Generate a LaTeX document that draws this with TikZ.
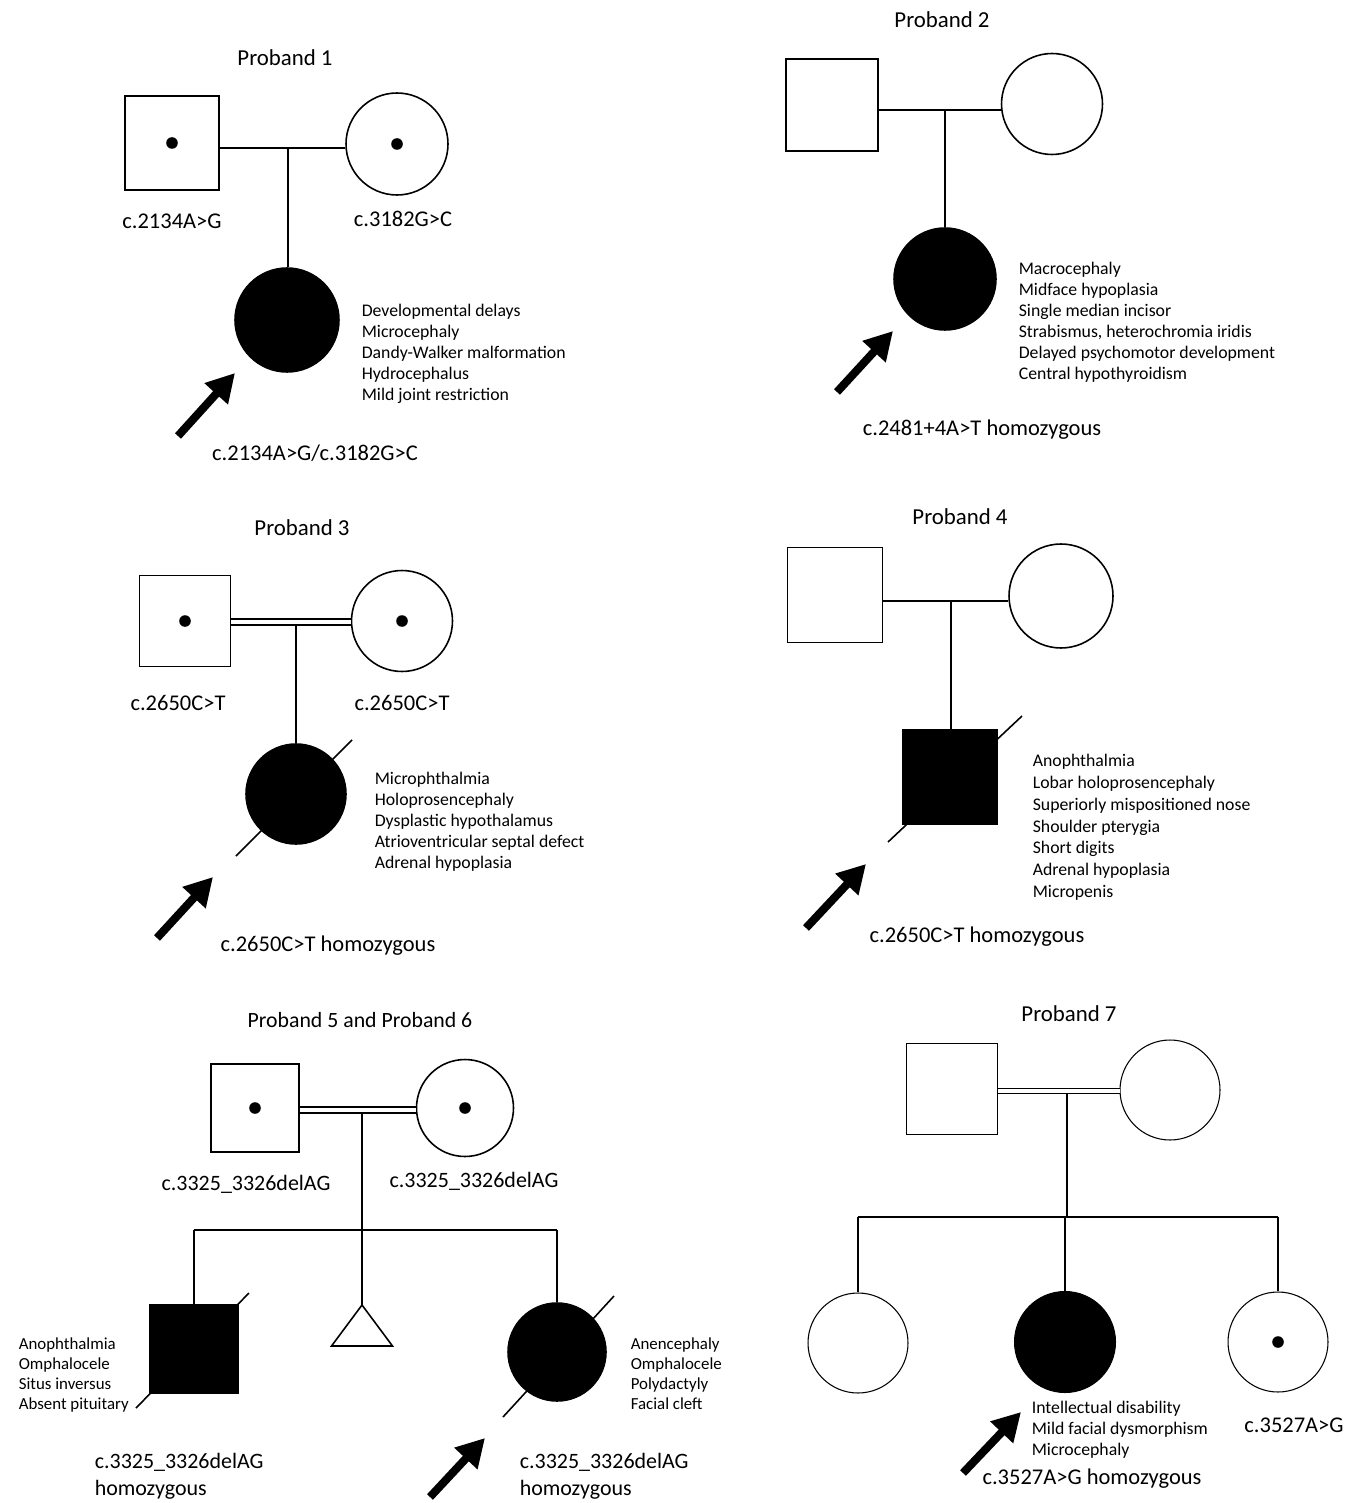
\documentclass[tikz,border=0pt]{standalone}
\usepackage{fontspec}
\setmainfont{Carlito}
\usetikzlibrary{arrows.meta}
\tikzset{
  male/.style={draw, rectangle, inner sep=0pt, minimum size=1.84cm},
  female/.style={draw, circle, inner sep=0pt, minimum size=2.02cm},
  affected/.style={fill=black},
  carrier/.style={path picture={\fill (path picture bounding box.center) circle (3.3pt);}},
  consang/.style={double, double distance=2.6pt},
  probarrow/.style={line width=4.6pt, -{Triangle[length=16pt,width=17pt]}},
  heading/.style={inner sep=0pt, font=\fontsize{13}{15}\selectfont},
  geno/.style={inner sep=0pt, font=\fontsize{12.8}{15.4}\selectfont},
  pheno/.style={anchor=north west, align=left, inner sep=0pt, font=\fontsize{10.1}{11.95}\selectfont}
}

\begin{document}
\begin{tikzpicture}[x=0.02cm, y=-0.02cm, line width=0.9pt]
  \useasboundingbox (0,0) rectangle (1364,1503);

  % Proband 1
  \node[heading] (h1) at (285,58) {Proband 1};
  \node[male, carrier, minimum size=1.88cm] (f1) at (172,143) {};
  \node[female, carrier, minimum size=2.04cm] (m1) at (397,144) {};
  \node[female, affected, minimum size=2.08cm] (p1) at (287,320) {};
  \coordinate (u1) at (288,148);
  \draw (f1.east |- u1) -- (m1.west |- u1);
  \draw (u1) -- (u1 |- p1.north);
  \node[geno] (g1f) at (172,221) {c.2134A>G};
  \node[geno] (g1m) at (403,219) {c.3182G>C};
  \node[geno] (g1p) at (315,453) {c.2134A>G/c.3182G>C};
  \node[pheno] (t1) at (361,303) {Developmental delays\\Microcephaly\\Dandy-Walker malformation\\Hydrocephalus\\Mild joint restriction};
  \coordinate (a1) at (178,436);
  \draw[probarrow] (a1) -- ++(57,-63);

  % Proband 2
  \node[heading] (h2) at (942,20) {Proband 2};
  \node[male, minimum size=1.84cm] (f2) at (832,105) {};
  \node[female] (m2) at (1052,104) {};
  \node[female, affected, minimum size=2.04cm] (p2) at (945,279) {};
  \coordinate (u2) at (945,110);
  \draw (f2.east |- u2) -- (m2.west |- u2);
  \draw (u2) -- (p2.north);
  \node[geno] (g2p) at (982,430) {c.2481+4A>T homozygous};
  \node[pheno] (t2) at (1018,261) {Macrocephaly\\Midface hypoplasia\\Single median incisor\\Strabismus, heterochromia iridis\\Delayed psychomotor development\\Central hypothyroidism};
  \coordinate (a2) at (837,392);
  \draw[probarrow] (a2) -- ++(56,-61);

  % Proband 3
  \node[heading] (h3) at (302,528) {Proband 3};
  \node[male, carrier, minimum size=1.82cm] (f3) at (185,621) {};
  \node[female, carrier] (m3) at (402,621) {};
  \node[female, affected, minimum size=2cm] (p3) at (296,794) {};
  \coordinate (u3) at (296,622);
  \draw[consang] (f3.east |- u3) -- (m3.west |- u3);
  \draw (296,625) -- (p3.north);
  \draw (236,856) -- (352,740);
  \node[geno] (g3f) at (178,703) {c.2650C>T};
  \node[geno] (g3m) at (402,703) {c.2650C>T};
  \node[geno] (g3p) at (328,946) {c.2650C>T homozygous};
  \node[pheno] (t3) at (374,771) {Microphthalmia\\Holoprosencephaly\\Dysplastic hypothalamus\\Atrioventricular septal defect\\Adrenal hypoplasia};
  \coordinate (a3) at (157,938);
  \draw[probarrow] (a3) -- ++(56,-61);

  % Proband 4
  \node[heading] (h4) at (960,517) {Proband 4};
  \node[male, minimum size=1.9cm] (f4) at (835,595) {};
  \node[female, minimum size=2.08cm] (m4) at (1061,596) {};
  \node[male, affected, minimum size=1.9cm] (p4) at (950,777) {};
  \coordinate (u4) at (951,601);
  \draw (f4.east |- u4) -- (m4.west |- u4);
  \draw (u4) -- (u4 |- p4.north);
  \draw (888,842) -- (1022,716);
  \node[geno] (g4p) at (977,937) {c.2650C>T homozygous};
  \node[pheno, font=\fontsize{10.1}{12.5}\selectfont] (t4) at (1032,753) {Anophthalmia\\Lobar holoprosencephaly\\Superiorly mispositioned nose\\Shoulder pterygia\\Short digits\\Adrenal hypoplasia\\Micropenis};
  \coordinate (a4) at (806,928);
  \draw[probarrow] (a4) -- ++(60,-64);

  % Proband 5 and Proband 6
  \node[heading, font=\fontsize{12.4}{15}\selectfont] (h5) at (360,1020) {Proband 5 and Proband 6};
  \node[male, carrier, minimum size=1.76cm] (f5) at (255,1108) {};
  \node[female, carrier, minimum size=1.94cm] (m5) at (465,1108) {};
  \coordinate (u5) at (362,1110);
  \draw[consang] (f5.east |- u5) -- (m5.west |- u5);
  \coordinate (s5) at (362,1230);
  \node[male, affected, minimum size=1.76cm] (p5) at (194,1349) {};
  \node[female, affected, minimum size=1.96cm] (p6) at (557,1352) {};
  \coordinate (tw5) at (362,1305);
  \draw (362,1113) -- (s5);
  \draw (p5.north |- s5) -- (p6.north |- s5);
  \draw (p5.north |- s5) -- (p5.north);
  \draw (p6.north |- s5) -- (p6.north);
  \draw (s5) -- (tw5);
  \draw (tw5) -- ++(-30.5,41) -- ++(61,0) -- cycle;
  \draw (136,1408) -- (249,1293);
  \draw (503,1417) -- (614,1296);
  \node[geno, font=\fontsize{12.5}{15.4}\selectfont] (g5f) at (246,1184) {c.3325\_3326delAG};
  \node[geno, font=\fontsize{12.5}{15.4}\selectfont] (g5m) at (474,1181) {c.3325\_3326delAG};
  \node[geno, anchor=north west, align=left, font=\fontsize{12.5}{15.4}\selectfont] (g5p) at (94,1452) {c.3325\_3326delAG\\homozygous};
  \node[geno, anchor=north west, align=left, font=\fontsize{12.5}{15.4}\selectfont] (g6p) at (519,1452) {c.3325\_3326delAG\\homozygous};
  \node[pheno, font=\fontsize{9.6}{11.4}\selectfont] (t5) at (18,1337) {Anophthalmia\\Omphalocele\\Situs inversus\\Absent pituitary};
  \node[pheno, font=\fontsize{9.6}{11.4}\selectfont] (t6) at (630,1337) {Anencephaly\\Omphalocele\\Polydactyly\\Facial cleft};
  \coordinate (a6) at (430,1497);
  \draw[probarrow] (a6) -- ++(55,-59);

  % Proband 7
  \begin{scope}[line width=0.6pt]
  \node[heading] (h7) at (1069,1014) {Proband 7};
  \node[male, minimum size=1.82cm] (f7) at (952,1089) {};
  \node[female, minimum size=2cm] (m7) at (1170,1090) {};
  \coordinate (u7) at (1067,1091);
  \draw[consang] (f7.east |- u7) -- (m7.west |- u7);
  \coordinate (s7) at (1067,1217);
  \node[female, minimum size=2cm] (c7a) at (858,1343) {};
  \node[female, affected] (p7) at (1065,1342) {};
  \node[female, carrier, minimum size=2cm] (c7b) at (1278,1342) {};
  \draw (1067,1094) -- (s7);
  \draw (c7a.north |- s7) -- (c7b.north |- s7);
  \draw (c7a.north |- s7) -- (c7a.north);
  \draw (p7.north |- s7) -- (p7.north);
  \draw (c7b.north |- s7) -- (c7b.north);
  \end{scope}
  \node[geno] (g7b) at (1294,1425) {c.3527A>G};
  \node[geno] (g7p) at (1092,1479) {c.3527A>G homozygous};
  \node[pheno] (t7) at (1031,1400) {Intellectual disability\\Mild facial dysmorphism\\Microcephaly};
  \coordinate (a7) at (963,1473);
  \draw[probarrow] (a7) -- ++(58,-61);
\end{tikzpicture}
\end{document}
